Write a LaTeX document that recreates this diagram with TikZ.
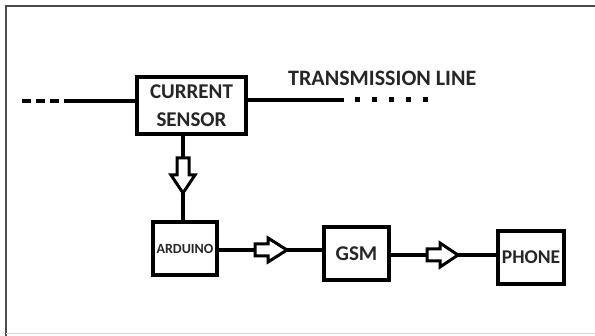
\documentclass[tikz,border=0pt]{standalone}
\usepackage{fontspec}
\setmainfont{Carlito}
\begin{document}
\begin{tikzpicture}[x=1pt,y=-1pt,
  blk/.style={draw=black,line width=4pt,fill=white,inner sep=0pt,align=center,font=\bfseries\fontsize{21}{28}\selectfont,text=black!85},
  wire/.style={line width=3.2pt,draw=black},
  hollow/.style={draw=black,line width=3pt,fill=white,line join=miter}]
\useasboundingbox (0,0) rectangle (595,336);
% frame
\draw[black!70,line width=1.5pt] (6,336) -- (6,6) -- (595,6);
\draw[black!15,line width=1pt] (6,333.5) -- (595,333.5);
% blocks
\node[blk,minimum width=109pt,minimum height=57pt] (sensor) at (191.5,105.5) {CURRENT\\SENSOR};
\node[blk,minimum width=64pt,minimum height=53pt,font=\bfseries\fontsize{14}{16}\selectfont] (ardu) at (185,248.5) {ARDUINO};
\node[blk,minimum width=65pt,minimum height=53pt] (gsm) at (356.5,253.5) {GSM};
\node[blk,minimum width=66pt,minimum height=53pt,font=\bfseries\fontsize{19.5}{24}\selectfont] (phone) at (531,257.5) {PHONE};
\node[anchor=west,inner sep=0pt,font=\bfseries\fontsize{22}{26}\selectfont,text=black!85] (tl) at (288,78) {TRANSMISSION LINE};
% transmission line
\coordinate (ldash) at (22,101);
\coordinate (lsolid) at (67,101);
\coordinate (rsolid) at (344,100);
\coordinate (rdot) at (355,100);
\coordinate (rdotend) at (428,100);
\draw[wire,dash pattern=on 9pt off 5pt] (ldash) -- (lsolid);
\draw[wire] (lsolid) -- (sensor.west |- lsolid);
\draw[wire] (sensor.east |- rsolid) -- (rsolid);
\draw[line width=5pt,dash pattern=on 5pt off 12pt] (rdot) -- (rdotend);
% vertical hollow arrow
\coordinate (v0) at (183,158);
\coordinate (v1) at (183,193);
\draw[wire] (sensor.south -| v0) -- (v0);
\draw[hollow] (177,158) -- (189,158) -- (189,175) -- (195,175) -- (v1) -- (171,175) -- (177,175) -- cycle;
\draw[wire] (v1) -- (ardu.north -| v1);
% arrow arduino -> gsm
\coordinate (h0) at (255,250);
\coordinate (h1) at (287,250);
\draw[wire] (ardu.east |- h0) -- (h0);
\draw[hollow] (255,244) -- (268,244) -- (268,238) -- (h1) -- (268,262) -- (268,256) -- (255,256) -- cycle;
\draw[wire] (h1) -- (gsm.west |- h1);
% arrow gsm -> phone
\coordinate (g0) at (427,255);
\coordinate (g1) at (458,255);
\draw[wire] (gsm.east |- g0) -- (g0);
\draw[hollow] (427,249) -- (440,249) -- (440,243) -- (g1) -- (440,267) -- (440,261) -- (427,261) -- cycle;
\draw[wire] (g1) -- (phone.west |- g1);
\end{tikzpicture}
\end{document}
